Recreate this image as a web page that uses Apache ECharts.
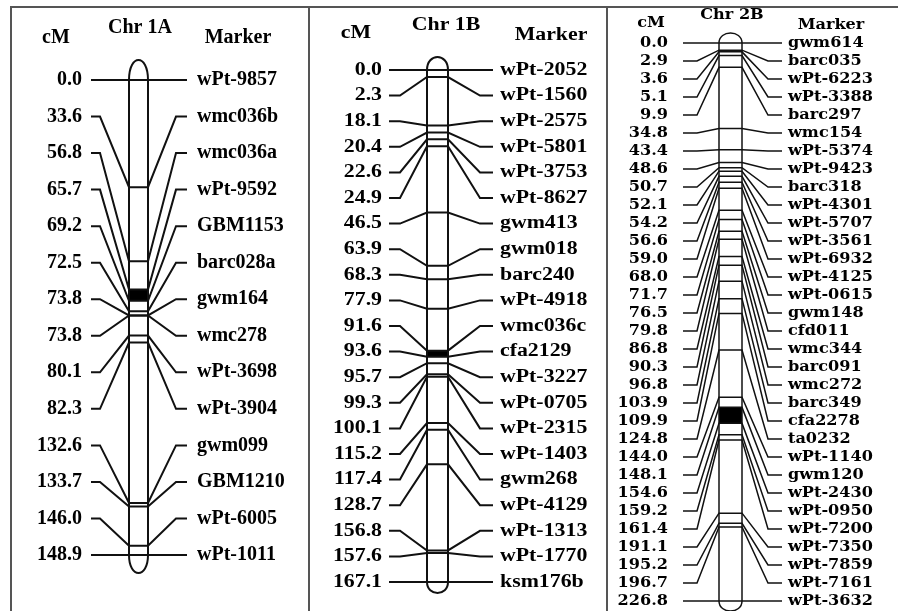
<!DOCTYPE html>
<html>
<head>
<meta charset="utf-8">
<script src="https://cdn.jsdelivr.net/npm/echarts@6/dist/echarts.min.js"></script>
<style>
  html, body { margin: 0; padding: 0; background: #fff; }
  #chart { width: 898px; height: 611px; }
</style>
</head>
<body>
<div id="chart"></div>
<script>
// Chr 1A
const chr1APos = [0.0, 33.6, 56.8, 65.7, 69.2, 72.5, 73.8, 73.8, 80.1, 82.3, 132.6, 133.7, 146.0, 148.9];
const chr1AMarkers = ['wPt-9857', 'wmc036b', 'wmc036a', 'wPt-9592', 'GBM1153', 'barc028a', 'gwm164',
  'wmc278', 'wPt-3698', 'wPt-3904', 'gwm099', 'GBM1210', 'wPt-6005', 'wPt-1011'];
const chr1ABlock = [65.7, 69.2];

// Chr 1B
const chr1BPos = [0.0, 2.3, 18.1, 20.4, 22.6, 24.9, 46.5, 63.9, 68.3, 77.9, 91.6, 93.6, 95.7, 99.3,
  100.1, 115.2, 117.4, 128.7, 156.8, 157.6, 167.1];
const chr1BMarkers = ['wPt-2052', 'wPt-1560', 'wPt-2575', 'wPt-5801', 'wPt-3753', 'wPt-8627', 'gwm413',
  'gwm018', 'barc240', 'wPt-4918', 'wmc036c', 'cfa2129', 'wPt-3227', 'wPt-0705', 'wPt-2315', 'wPt-1403',
  'gwm268', 'wPt-4129', 'wPt-1313', 'wPt-1770', 'ksm176b'];
const chr1BBlock = [91.6, 93.6];

// Chr 2B
const chr2BPos = [0.0, 2.9, 3.6, 5.1, 9.9, 34.8, 43.4, 48.6, 50.7, 52.1, 54.2, 56.6, 59.0, 68.0, 71.7,
  76.5, 79.8, 86.8, 90.3, 96.8, 103.9, 109.9, 124.8, 144.0, 148.1, 154.6, 159.2, 161.4, 191.1, 195.2,
  196.7, 226.8];
const chr2BMarkers = ['gwm614', 'barc035', 'wPt-6223', 'wPt-3388', 'barc297', 'wmc154', 'wPt-5374',
  'wPt-9423', 'barc318', 'wPt-4301', 'wPt-5707', 'wPt-3561', 'wPt-6932', 'wPt-4125', 'wPt-0615', 'gwm148',
  'cfd011', 'wmc344', 'barc091', 'wmc272', 'barc349', 'cfa2278', 'ta0232', 'wPt-1140', 'gwm120',
  'wPt-2430', 'wPt-0950', 'wPt-7200', 'wPt-7350', 'wPt-7859', 'wPt-7161', 'wPt-3632'];
const chr2BBlock = [148.1, 154.6];

const W = 898, H = 611;
const SERIF = '"Liberation Serif", "Times New Roman", serif';
const WIDE_SERIF = '"DejaVu Serif", serif';
const INK = '#111';

// layout of each panel, in pixels
const panels = [
  {
    title: 'Chr 1A', pos: chr1APos, markers: chr1AMarkers, block: chr1ABlock,
    top: 80, bottom: 555, barL: 129, barR: 148, lStart: 91, lKnee: 100, rKnee: 176, rEnd: 187,
    cmX: 82, mkX: 197, font: SERIF, fs: 20, sx: 1, capTop: 20, capBot: 18, lw: 2,
    head: { cm: [56, 38], chr: [140, 28], mk: [238, 38] },
  },
  {
    title: 'Chr 1B', pos: chr1BPos, markers: chr1BMarkers, block: chr1BBlock,
    top: 70, bottom: 582, barL: 427, barR: 448, lStart: 389, lKnee: 400, rKnee: 480, rEnd: 493,
    cmX: 382, mkX: 500, font: SERIF, fs: 18.5, sx: 1.18, capTop: 13, capBot: 11, lw: 2,
    head: { cm: [356, 33], chr: [446, 25], mk: [551, 35] },
  },
  {
    title: 'Chr 2B', pos: chr2BPos, markers: chr2BMarkers, block: chr2BBlock,
    top: 43, bottom: 601, barL: 719, barR: 742, lStart: 683, lKnee: 697, rKnee: 768, rEnd: 782,
    cmX: 668, mkX: 788, font: WIDE_SERIF, fs: 14, sx: 1.15, capTop: 10, capBot: 10, lw: 1.5,
    head: { cm: [651, 23], chr: [732, 15], mk: [831, 25] },
  },
];

function textEl(x, y, text, p, align) {
  return {
    type: 'text',
    x, y,
    scaleX: p.sx,
    style: {
      text,
      align, textAlign: align,
      verticalAlign: 'middle', textVerticalAlign: 'middle',
      fontFamily: p.font, fontWeight: 'bold', fontSize: p.fs,
      fill: '#000',
    },
  };
}

const grids = [], xAxes = [], yAxes = [], series = [];
panels.forEach((p, k) => {
  const n = p.pos.length;
  const first = p.pos[0];
  const last = p.pos[n - 1];
  grids.push({ left: 0, right: 0, top: p.top, height: p.bottom - p.top });
  xAxes.push({ gridIndex: k, type: 'value', min: 0, max: W, show: false });
  yAxes.push({ gridIndex: k, type: 'value', inverse: true, min: first, max: last, show: false });

  const line = { stroke: INK, lineWidth: p.lw, fill: null };

  // chromosome body
  series.push({
    type: 'custom',
    xAxisIndex: k, yAxisIndex: k,
    clip: false, silent: true,
    data: [[0, first, last, p.block[0], p.block[1]]],
    renderItem(params, api) {
      const L = api.coord([p.barL, first])[0];
      const R = api.coord([p.barR, first])[0];
      const y0 = api.coord([0, api.value(1)])[1];
      const y1 = api.coord([0, api.value(2)])[1];
      const b0 = api.coord([0, api.value(3)])[1];
      const b1 = api.coord([0, api.value(4)])[1];
      const ct = p.capTop * 4 / 3, cb = p.capBot * 4 / 3;
      return {
        type: 'group',
        children: [
          { type: 'rect', shape: { x: L, y: b0, width: R - L, height: b1 - b0 }, style: { fill: '#000' } },
          { type: 'line', shape: { x1: L, y1: y0, x2: L, y2: y1 }, style: line },
          { type: 'line', shape: { x1: R, y1: y0, x2: R, y2: y1 }, style: line },
          { type: 'bezierCurve', shape: { x1: L, y1: y0, x2: R, y2: y0, cpx1: L, cpy1: y0 - ct, cpx2: R, cpy2: y0 - ct }, style: line },
          { type: 'bezierCurve', shape: { x1: L, y1: y1, x2: R, y2: y1, cpx1: L, cpy1: y1 + cb, cpx2: R, cpy2: y1 + cb }, style: line },
        ],
      };
    },
  });

  // markers: connector, cM label, marker name
  series.push({
    type: 'custom',
    xAxisIndex: k, yAxisIndex: k,
    clip: false, silent: true,
    data: p.pos.map((v, i) => [i, v]),
    renderItem(params, api) {
      const i = api.value(0);
      const cm = api.value(1);
      // labels are spread evenly along the chromosome length
      const slot = first + (last - first) * i / (n - 1);
      const yBar = api.coord([0, cm])[1];
      const yLab = api.coord([0, slot])[1];
      const X = (v) => api.coord([v, first])[0];
      return {
        type: 'group',
        children: [
          {
            type: 'polyline',
            shape: {
              points: [
                [X(p.lStart), yLab], [X(p.lKnee), yLab], [X(p.barL), yBar],
                [X(p.barR), yBar], [X(p.rKnee), yLab], [X(p.rEnd), yLab],
              ],
            },
            style: line,
          },
          textEl(X(p.cmX), yLab, cm.toFixed(1), p, 'right'),
          textEl(X(p.mkX), yLab, p.markers[params.dataIndex], p, 'left'),
        ],
      };
    },
  });
});

// headers and frame
const graphic = [];
panels.forEach((p) => {
  graphic.push(textEl(p.head.cm[0], p.head.cm[1], 'cM', p, 'center'));
  graphic.push(textEl(p.head.chr[0], p.head.chr[1], p.title, p, 'center'));
  graphic.push(textEl(p.head.mk[0], p.head.mk[1], 'Marker', p, 'center'));
});
const frame = { stroke: '#555', lineWidth: 2, fill: null };
graphic.push({ type: 'polyline', shape: { points: [[11, H], [11, 7], [W, 7]] }, style: frame });
graphic.push({ type: 'line', shape: { x1: 309, y1: 7, x2: 309, y2: H }, style: frame });
graphic.push({ type: 'line', shape: { x1: 607, y1: 7, x2: 607, y2: H }, style: frame });

const chart = echarts.init(document.getElementById('chart'), null, { renderer: 'canvas' });
chart.setOption({
  animation: false,
  backgroundColor: '#fff',
  grid: grids,
  xAxis: xAxes,
  yAxis: yAxes,
  series,
  graphic,
});
</script>
</body>
</html>
